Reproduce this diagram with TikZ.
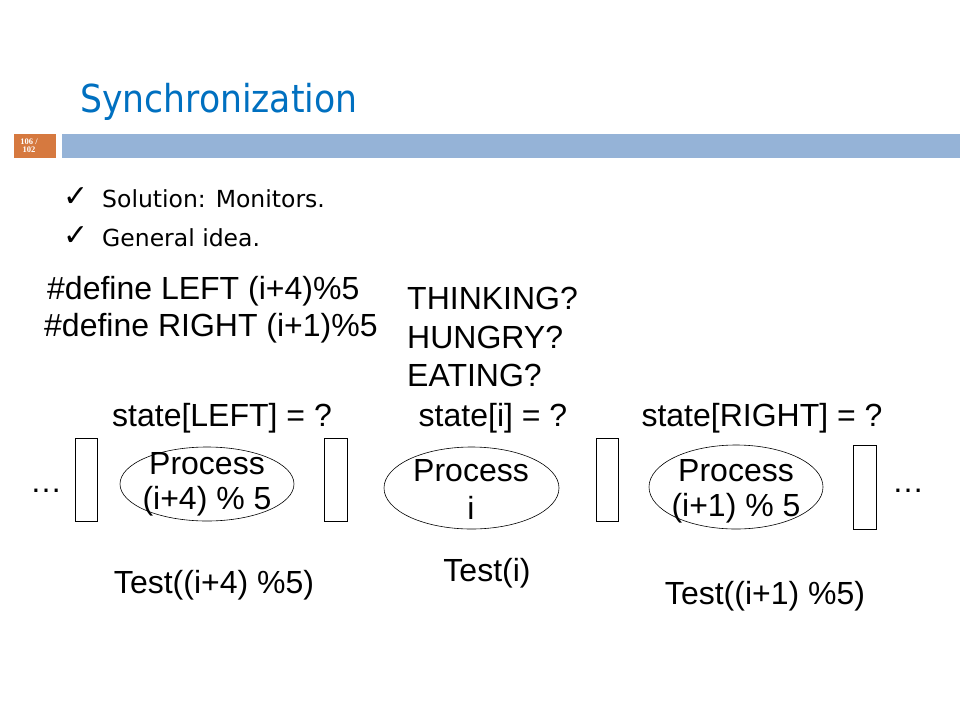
\documentclass[tikz,border=0pt]{standalone}
\usepackage{fontspec}
\setmainfont{Liberation Sans}
\newfontfamily\titlefont{DejaVu Sans Condensed}
\newfontfamily\bulfont{DejaVu Sans}
\newfontfamily\pgfont{Liberation Serif}
\usetikzlibrary{shapes.geometric}
\definecolor{titleblue}{HTML}{0070C0}
\definecolor{barblue}{HTML}{95B3D7}
\definecolor{barorange}{HTML}{D6793F}
\tikzset{
  lbl/.style={inner sep=0pt, font=\fontsize{32}{36}\selectfont},
  fork/.style={draw, line width=0.9pt},
  proc/.style={draw, line width=0.6pt, ellipse},
  bul/.style={inner sep=0pt, anchor=west, font=\bulfont\fontsize{23.5}{26}\selectfont},
  chk/.style={inner sep=0pt, font=\bulfont\fontsize{30}{32}\selectfont},
}
\begin{document}
\begin{tikzpicture}[x=1pt,y=-1pt]
\useasboundingbox (0,0) rectangle (960,720);
\fill[white] (0,0) rectangle (960,720);
% header
\node[inner sep=0pt, anchor=west, text=titleblue, font=\titlefont\fontsize{38.5}{42}\selectfont] (title) at (80,102) {Synchronization};
\fill[barorange] (14,134) rectangle (56,158);
\fill[barblue] (62,134) rectangle (960,158);
\node[inner sep=0pt, text=white, font=\pgfont\bfseries\fontsize{8.5}{8}\selectfont, align=center] (pg) at (29,146) {106 /\\102};
% bullets
\node[chk] (c1) at (76,197) {✓};
\node[bul] (b1) at (102,199) {Solution: Monitors.};
\node[chk] (c2) at (76,236) {✓};
\node[bul] (b2) at (102,238) {General idea.};
% defines
\node[lbl, anchor=west] (d1) at (47,291) {\#define LEFT (i+4)\%5};
\node[lbl, anchor=west] (d2) at (44,328) {\#define RIGHT (i+1)\%5};
\node[lbl, anchor=west] (s1) at (407,298) {THINKING?};
\node[lbl, anchor=west] (s2) at (407,337) {HUNGRY?};
\node[lbl, anchor=west] (s3) at (407,375) {EATING?};
% states
\node[lbl] (st1) at (222,418) {state[LEFT] = ?};
\node[lbl] (st2) at (493,418) {state[i] = ?};
\node[lbl] (st3) at (762,418) {state[RIGHT] = ?};
% forks
\draw[fork] (75,438) rectangle (97,521);
\draw[fork] (324,438) rectangle (347,521);
\draw[fork] (596,438) rectangle (618,521);
\draw[fork] (853,445) rectangle (876,529);
% processes
\draw[proc] (207,484) ellipse [x radius=87, y radius=37];
\draw[proc] (471.5,488) ellipse [x radius=87.5, y radius=41];
\draw[proc] (736,487) ellipse [x radius=87, y radius=42];
\node[lbl] (p1a) at (207,464) {Process};
\node[lbl] (p1b) at (207,501) {(i+4) \% 5};
\node[lbl] (p2a) at (471,471) {Process};
\node[lbl] (p2b) at (471,508) {i};
\node[lbl] (p3a) at (736,471) {Process};
\node[lbl] (p3b) at (736,508) {(i+1) \% 5};
% dots
\node[lbl] (dl) at (46,491) {\dots};
\node[lbl] (dr) at (908,491) {\dots};
% tests
\node[lbl] (t1) at (214,585) {Test((i+4) \%5)};
\node[lbl] (t2) at (487,573) {Test(i)};
\node[lbl] (t3) at (765,596) {Test((i+1) \%5)};
\end{tikzpicture}
\end{document}
